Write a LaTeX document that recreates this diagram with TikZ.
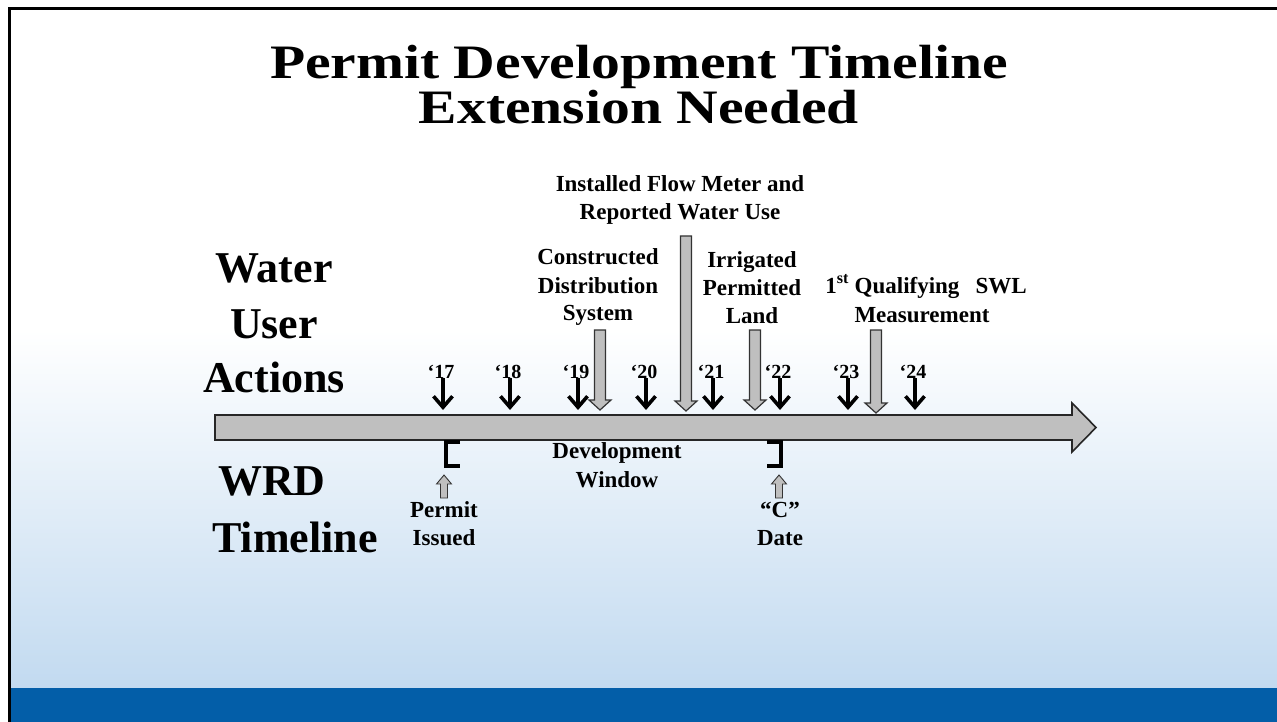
\documentclass[tikz,border=0pt]{standalone}
\usepackage{fontspec}
\setmainfont{Liberation Serif}
\newfontfamily\titlefont{Liberation Serif}[FakeStretch=1.2]
\usetikzlibrary{arrows.meta}
\definecolor{axisgray}{RGB}{191,191,191}
\definecolor{barblue}{RGB}{3,94,168}
\definecolor{paleblue}{RGB}{194,218,240}
\newcommand\blockdown[3]{%
  \draw[garrow] (#1-5.5,#2) -- (#1+5.5,#2) -- (#1+5.5,#3-10) -- (#1+11,#3-10) -- (#1,#3) -- (#1-11,#3-10) -- (#1-5.5,#3-10) -- cycle;}
\newcommand\smallup[3]{%
  \draw[sarrow] (#1,#2) -- (#1+7.5,#2+9) -- (#1+3.5,#2+9) -- (#1+3.5,#3) -- (#1-3.5,#3) -- (#1-3.5,#2+9) -- (#1-7.5,#2+9) -- cycle;}
\begin{document}
\begin{tikzpicture}[x=1pt,y=-1pt,
  txt/.style={anchor=base, inner sep=0pt, font=\bfseries\fontsize{23}{27}\selectfont},
  big/.style={anchor=base, inner sep=0pt, font=\bfseries\fontsize{44}{50}\selectfont},
  ttl/.style={anchor=north, inner sep=0pt, align=center,
    font=\titlefont\bfseries\fontsize{48}{43}\selectfont},
  yr/.style={anchor=base, inner sep=0pt, font=\bfseries\fontsize{20}{24}\selectfont},
  yarr/.style={line width=3.6pt, -{Straight Barb[length=11pt,width=19pt]}},
  garrow/.style={draw=black!80, line width=1.2pt, fill=axisgray, line join=miter},
  sarrow/.style={draw=black!80, line width=0.9pt, fill=axisgray},
  brk/.style={line width=4.5pt, line join=miter},
]
\useasboundingbox (0,0) rectangle (1277,722);
% background
\fill[white] (0,0) rectangle (1277,722);
\shade[top color=white, bottom color=paleblue] (11,330) rectangle (1277,688);
\fill[barblue] (11,688) rectangle (1277,722);
\draw[line width=3pt] (9.5,722) -- (9.5,8.5) -- (1277,8.5);

% title
\node[ttl] (title) at (639,45) {\lineskiplimit=-60pt\relax\lineskip=0pt\relax
  Permit Development Timeline\\Extension Needed};

% left labels
\node[big] (w1) at (274,282) {Water};
\node[big] (w2) at (274,338) {User};
\node[big] (w3) at (274,392) {Actions};
\node[big] (r1) at (272,495) {WRD};
\node[big] (r2) at (295,552) {Timeline};

% timeline axis
\draw[draw=black!85, line width=1.6pt, fill=axisgray, line join=miter]
  (215,415) -- (1072,415) -- (1072,403) -- (1096,427.5) -- (1072,452) -- (1072,440) -- (215,440) -- cycle;

% years
\foreach \n/\x in {17/443,18/510,19/578,20/646,21/713,22/780,23/848,24/915}{
  \coordinate (tip\n) at (\x,410);
  \node[yr] (yr\n) at (\x-2,378) {‘\n};
  \draw[yarr] (yr\n.south -| tip\n) -- (tip\n);
}

% action labels
\node[txt] (f1) at (680,192) {Installed Flow Meter and};
\node[txt] (f2) at (680,219) {Reported Water Use};
\node[txt] (c1) at (598,264) {Constructed};
\node[txt] (c2) at (598,293) {Distribution};
\node[txt] (c3) at (598,320) {System};
\node[txt] (i1) at (752,267) {Irrigated};
\node[txt] (i2) at (752,295) {Permitted};
\node[txt] (i3) at (752,323) {Land};
\node[txt] (q1) at (926,293) {1\textsuperscript{st} Qualifying\hspace{0.45em} SWL};
\node[txt] (q2) at (922,322) {Measurement};

% gray action arrows
\blockdown{600}{330}{410}
\blockdown{686}{236}{411}
\blockdown{755}{330}{410}
\blockdown{876}{330}{413}

% WRD part
\draw[brk] (460,442) -- (446,442) -- (446,466) -- (460,466);
\draw[brk] (767,442) -- (781,442) -- (781,466) -- (767,466);
\node[txt] (d1) at (617,458) {Development};
\node[txt] (d2) at (617,487) {Window};
\smallup{444}{475}{498}
\smallup{779}{475}{498}
\node[txt] (p1) at (444,517) {Permit};
\node[txt] (p2) at (444,545) {Issued};
\node[txt] (cd1) at (780,517) {“C”};
\node[txt] (cd2) at (780,545) {Date};
\end{tikzpicture}
\end{document}
